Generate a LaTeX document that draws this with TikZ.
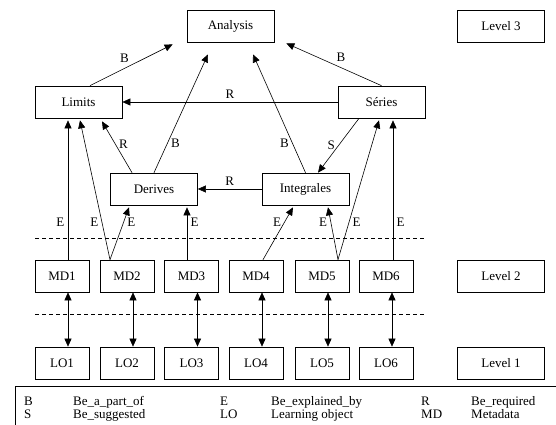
\documentclass[tikz,border=0pt]{standalone}
\usepackage{fontspec}
\setmainfont{Liberation Serif}
\usetikzlibrary{arrows.meta}

\begin{document}
\begin{tikzpicture}[x=1pt,y=-1pt,>={Triangle[length=8pt,width=7pt]},
  font=\fontsize{13}{15}\selectfont,
  box/.style={draw,line width=0.7pt,minimum width=54pt,minimum height=32pt,inner sep=0pt},
  wbox/.style={box,minimum width=87pt},
  lnk/.style={->,line width=0.6pt},
  lgd/.style={anchor=base west,inner sep=0pt}]
\useasboundingbox (0,0) rectangle (556,425);
% level 3
\node[wbox] (ana) at (230.5,26) {Analysis};
\node[wbox] (lev3) at (501,26) {Level 3};
\node[wbox] (lim) at (78.5,102) {Limits};
\node[wbox] (ser) at (381.5,102) {Séries};
\node[wbox] (der) at (154,189) {Derives};
\node[wbox] (int) at (305.5,189) {Integrales};
% levels 2 and 1
\foreach \i/\x in {1/62,2/127,3/191.5,4/256,5/322,6/386}{
  \node[box] (md\i) at (\x,276) {MD\i};
  \node[box] (lo\i) at (\x,363) {LO\i};
  \draw[<->,line width=0.6pt] ([xshift=6pt]md\i.south) -- ([xshift=6pt]lo\i.north);
}
\node[wbox] (lev2) at (501,276) {Level 2};
\node[wbox] (lev1) at (501,363) {Level 1};
\draw[dash pattern=on 4pt off 3pt,line width=0.6pt] (35,238) -- (425,238) (35,314) -- (425,314);
% B, R, S links
\draw[lnk] ([xshift=11.5pt]lim.north) -- ([xshift=-14pt,yshift=-2pt]ana.south west)
  node[midway,above left=-1pt]{B};
\draw[lnk] (ser.north) -- ([xshift=12pt,yshift=-1pt]ana.south east)
  node[midway,above right=-1pt]{B};
\draw[lnk] (ser.west) -- (lim.east) node[midway,above]{R};
\draw[lnk] (der.north) -- ([xshift=-22.5pt,yshift=-12pt]ana.south) node[pos=.25,right]{B};
\draw[lnk] ([xshift=-22pt]der.north) -- ([xshift=23.5pt,yshift=-3pt]lim.south)
  node[pos=.55,right]{R};
\draw[lnk] (int.north) -- ([xshift=22.5pt,yshift=-12pt]ana.south) node[pos=.25,left]{B};
\draw[lnk] ([xshift=-22.5pt]ser.south) -- ([xshift=12.5pt]int.north) node[pos=.5,left]{S};
\draw[lnk] (int.west) -- (der.east) node[midway,above]{R};
% E links
\draw[lnk] ([xshift=6pt]md1.north) -- ([xshift=-10.5pt,yshift=-2pt]lim.south) node[pos=.27,left]{E};
\draw[lnk] ([xshift=-17pt]md2.north) -- ([xshift=1.5pt,yshift=-2pt]lim.south) node[pos=.27,left]{E};
\draw[lnk] ([xshift=-17pt]md2.north) -- ([xshift=-25pt,yshift=-2pt]der.south) node[pos=.72,right]{E};
\draw[lnk] ([xshift=-4.5pt]md3.north) -- ([xshift=33pt,yshift=-2pt]der.south) node[pos=.72,right]{E};
\draw[lnk] ([xshift=7pt]md4.north) -- ([xshift=-12.5pt,yshift=-2pt]int.south) node[pos=.72,left]{E};
\draw[lnk] ([xshift=16pt]md5.north) -- ([xshift=22.5pt,yshift=-2pt]int.south) node[pos=.72,left]{E};
\draw[lnk] ([xshift=16pt]md5.north) -- ([xshift=-2.5pt,yshift=-2pt]ser.south) node[pos=.27,right]{E};
\draw[lnk] ([xshift=7pt]md6.north) -- ([xshift=11.5pt,yshift=-2pt]ser.south) node[pos=.27,right]{E};
% legend
\draw[line width=0.7pt] (15,386) rectangle (560,430);
\node[lgd] (kb) at (24,405) {B};
\node[lgd] (tb) at (73,405) {Be\_a\_part\_of};
\node[lgd] (ke) at (220,405) {E};
\node[lgd] (te) at (271,405) {Be\_explained\_by};
\node[lgd] (kr) at (421,405) {R};
\node[lgd] (tr) at (471,405) {Be\_required};
\node[lgd] (ks) at (24,418) {S};
\node[lgd] (ts) at (73,418) {Be\_suggested};
\node[lgd] (klo) at (220,418) {LO};
\node[lgd] (tlo) at (271,418) {Learning object};
\node[lgd] (kmd) at (421,418) {MD};
\node[lgd] (tmd) at (471,418) {Metadata};
\end{tikzpicture}
\end{document}
